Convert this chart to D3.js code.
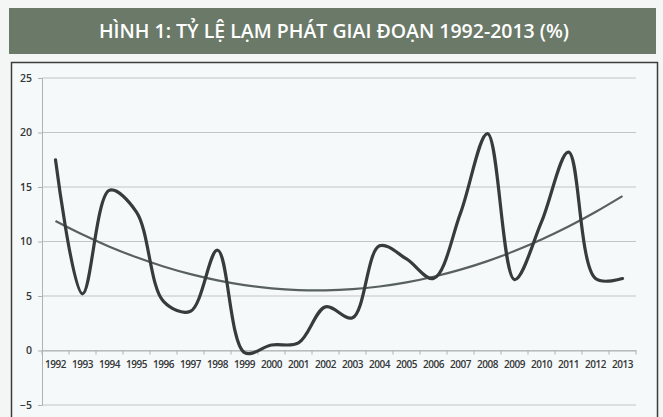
<!DOCTYPE html>
<html>
<head>
<meta charset="utf-8">
<script src="https://cdn.jsdelivr.net/npm/d3@7"></script>
<style>
  body { margin: 0; background: #f4f6f5; }
  svg { display: block; }
</style>
</head>
<body>
<div id="chart"></div>
<script>
// data
var years = ["1992","1993","1994","1995","1996","1997","1998","1999","2000","2001","2002",
             "2003","2004","2005","2006","2007","2008","2009","2010","2011","2012","2013"];
var inflation = [17.5, 5.2, 14.7, 12.7, 4.5, 3.6, 9.2, -0.2, 0.5, 0.7, 4.0,
                 3.0, 9.6, 8.4, 6.6, 12.6, 19.9, 6.5, 11.8, 18.2, 6.6, 6.6];
var yTicks = [-5, 0, 5, 10, 15, 20, 25];
var title = "HÌNH 1: TỶ LỆ LẠM PHÁT GIAI ĐOẠN 1992-2013 (%)";

var svgWidth = 663, svgHeight = 417;
var margin = { top: 78, right: 27, bottom: 12, left: 42 };
var width = svgWidth - margin.left - margin.right;

var svg = d3.select("#chart").append("svg")
  .attr("width", svgWidth)
  .attr("height", svgHeight);

// title banner
svg.append("rect")
  .attr("x", 9).attr("y", 8).attr("width", 647).attr("height", 46)
  .attr("fill", "#6b7969");
svg.append("text")
  .attr("x", 334).attr("y", 38)
  .attr("text-anchor", "middle")
  .attr("fill", "#ffffff")
  .attr("font-family", "'Open Sans', sans-serif")
  .attr("font-weight", "600")
  .attr("font-size", "19.5px")
  .text(title);

// frame round the chart
svg.append("rect")
  .attr("x", 11.5).attr("y", 62.5).attr("width", 646).attr("height", 360)
  .attr("fill", "#f6f9fa")
  .attr("stroke", "#3a3d3c")
  .attr("stroke-width", 1.5);

var chartGroup = svg.append("g")
  .attr("transform", `translate(${margin.left}, 0)`);

var xScale = d3.scaleBand()
  .domain(years)
  .range([0, width]);

var yScale = d3.scaleLinear()
  .domain([-5, 25])
  .range([405, 78]);

// gridlines
chartGroup.selectAll(".grid")
  .data(yTicks)
  .enter()
  .append("line")
  .attr("x1", 0).attr("x2", width)
  .attr("y1", d => yScale(d)).attr("y2", d => yScale(d))
  .attr("stroke", "#c2c6c6")
  .attr("stroke-width", 1.2);

// y axis
var yAxis = chartGroup.append("g")
  .call(d3.axisLeft(yScale).tickValues(yTicks).tickSize(4).tickPadding(6));
yAxis.select(".domain").attr("stroke", "#aeb2b2");
yAxis.selectAll(".tick line").attr("stroke", "#aeb2b2");
yAxis.selectAll("text")
  .attr("font-family", "'Open Sans', sans-serif")
  .attr("font-weight", "600")
  .attr("font-size", "10.5px")
  .attr("fill", "#333636");

// x axis sits on zero
var xAxis = chartGroup.append("g")
  .attr("transform", `translate(0, ${yScale(0)})`)
  .call(d3.axisBottom(xScale).tickSize(0).tickPadding(10));
xAxis.select(".domain").attr("stroke", "#aeb2b2");
xAxis.selectAll("text")
  .attr("font-family", "'Open Sans', sans-serif")
  .attr("font-weight", "600")
  .attr("font-size", "10px")
  .attr("letter-spacing", "-0.5px")
  .attr("fill", "#333636");

// tick marks between categories
chartGroup.selectAll(".xtick")
  .data(years.concat(["end"]))
  .enter()
  .append("line")
  .attr("x1", (d, i) => i * xScale.bandwidth())
  .attr("x2", (d, i) => i * xScale.bandwidth())
  .attr("y1", yScale(0)).attr("y2", yScale(0) + 4)
  .attr("stroke", "#aeb2b2");

var points = years.map((y, i) => ({ year: y, value: inflation[i], idx: i + 1 }));

// polynomial (order 2) trendline fitted to the data, like Excel does
function quadFit(pts) {
  var s = [0, 0, 0, 0, 0], t = [0, 0, 0];
  pts.forEach(function(p) {
    var x = p.idx;
    for (var k = 0; k < 5; k++) s[k] += Math.pow(x, k);
    for (var k = 0; k < 3; k++) t[k] += p.value * Math.pow(x, k);
  });
  var m = [[s[0], s[1], s[2], t[0]], [s[1], s[2], s[3], t[1]], [s[2], s[3], s[4], t[2]]];
  for (var i = 0; i < 3; i++) {
    for (var j = i + 1; j < 3; j++) {
      var f = m[j][i] / m[i][i];
      for (var k = i; k < 4; k++) m[j][k] -= f * m[i][k];
    }
  }
  var c = [0, 0, 0];
  for (var i = 2; i >= 0; i--) {
    var v = m[i][3];
    for (var k = i + 1; k < 3; k++) v -= m[i][k] * c[k];
    c[i] = v / m[i][i];
  }
  return c;
}
var coef = quadFit(points);

var xPos = d => xScale(d.year) + xScale.bandwidth() / 2;

var trendLine = d3.line()
  .x(xPos)
  .y(d => yScale(coef[0] + coef[1] * d.idx + coef[2] * d.idx * d.idx))
  .curve(d3.curveNatural);

chartGroup.append("path")
  .datum(points)
  .attr("d", trendLine)
  .attr("fill", "none")
  .attr("stroke", "#586060")
  .attr("stroke-width", 2.2);

var line = d3.line()
  .x(xPos)
  .y(d => yScale(d.value))
  .curve(d3.curveCatmullRom.alpha(0.5));

chartGroup.append("path")
  .datum(points)
  .attr("d", line)
  .attr("fill", "none")
  .attr("stroke", "#363b3b")
  .attr("stroke-width", 3.2)
  .attr("stroke-linejoin", "round")
  .attr("stroke-linecap", "round");
</script>
</body>
</html>
